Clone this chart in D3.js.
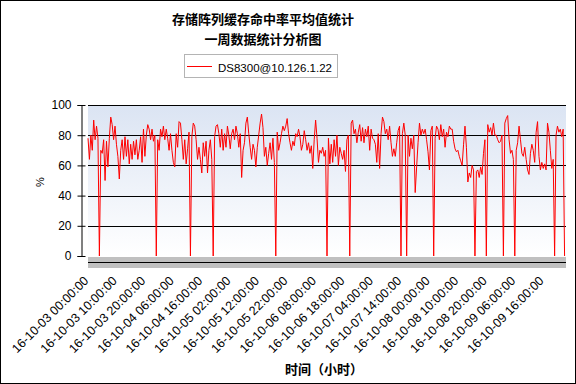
<!DOCTYPE html>
<html>
<head>
<meta charset="utf-8">
<script src="https://cdn.jsdelivr.net/npm/d3@7"></script>
<style>
    html, body { margin: 0; padding: 0; background: #fff; }
    svg { display: block; }
</style>
</head>
<body>
<svg id="chart" width="576" height="384"></svg>
<script>
    // 标题 / 图例
    var titleLines = ["存储阵列缓存命中率平均值统计", "一周数据统计分析图"];
    var seriesName = "DS8300@10.126.1.22";
    var xTitle = "时间（小时）";
    var yTitle = "%";

    // 采样起点, 间隔 30 分钟
    var startTime = "16-10-03 00:00:00";
    var stepMinutes = 30;

    // 缓存命中率 (%), 每半小时一个点
    var hitRate = [
        78, 64, 80, 70, 90, 77, 86, 78, 0,
        70, 68, 77, 50, 76, 59, 78, 92, 87, 77, 86, 74, 66, 51, 70, 77, 64, 79, 66, 77,
        61, 74, 64, 76, 67, 77, 64, 70, 79, 62, 84, 66, 80, 87, 84, 77, 84, 76, 80, 0,
        77, 70, 84, 79, 86, 77, 84, 78,
        70, 81, 70, 62, 59, 81, 72, 89, 88, 77, 64, 77, 61, 71, 82, 0,
        79, 88, 86, 77, 64, 72, 64, 55, 75, 66, 76, 55, 70, 77, 64, 0,
        79, 86, 87, 81, 72, 84, 70, 81, 72, 86, 80, 71, 81, 84, 77, 86, 81, 72, 81, 52, 70, 75, 88, 92,
        81, 72, 64, 74, 70, 59, 72, 80, 88, 94, 85, 66, 72, 60, 68, 75, 64, 78, 62, 0,
        82, 70, 75, 81, 86, 83, 86, 91, 81, 75, 70, 76, 73, 81, 79, 84, 79, 70, 74, 83,
        77, 70, 75, 68, 73, 58, 77, 90, 78, 62, 70, 68, 72, 66, 70, 0,
        78, 61, 74, 62, 77, 66, 80, 60, 72, 68, 64, 70, 56, 77, 80, 0,
        88, 90, 81, 84, 75, 82, 87, 76, 85, 75, 84, 79, 86, 70, 84, 78, 77, 74, 62, 81,
        58, 81, 92, 89, 81, 84, 77, 86, 75, 66, 71, 66, 75, 83, 86, 0,
        81, 88, 80, 0,
        80, 66, 78, 71, 80, 42, 59, 75, 88, 80, 84, 81, 84, 77, 69, 57, 83, 86, 0,
        78, 86, 84, 77, 87, 79, 84, 72, 82, 79, 86, 84, 84, 76, 71, 69, 70, 66, 63, 60,
        74, 86, 72, 49, 55, 52, 60, 57, 0,
        56, 57, 52, 59, 54, 68, 77, 0,
        87, 82, 85, 80, 88, 80, 80, 77, 75, 76, 80, 0,
        88, 91, 93, 77, 68, 70, 64, 0,
        70, 75, 86, 77, 68, 66, 72, 64, 57, 54, 68, 74, 70, 62, 82, 89, 66, 57, 62, 58,
        61, 57, 88, 82, 70, 58, 64, 0,
        80, 86, 82, 84, 79, 84, 0
    ];

    var yTicks = [0, 20, 40, 60, 80, 100];
    var xTickLabels = [
        "16-10-03 00:00:00", "16-10-03 10:00:00", "16-10-03 20:00:00",
        "16-10-04 06:00:00", "16-10-04 16:00:00", "16-10-05 02:00:00",
        "16-10-05 12:00:00", "16-10-05 22:00:00", "16-10-06 08:00:00",
        "16-10-06 18:00:00", "16-10-07 04:00:00", "16-10-07 14:00:00",
        "16-10-08 00:00:00", "16-10-08 10:00:00", "16-10-08 20:00:00",
        "16-10-09 06:00:00", "16-10-09 16:00:00"
    ];
    var spanHours = 168;

    var parseTime = d3.timeParse("%y-%m-%d %H:%M:%S");
    var t0 = parseTime(startTime);
    var points = hitRate.map(function (v, i) {
        return { t: d3.timeMinute.offset(t0, i * stepMinutes), v: v };
    });

    var plot = { left: 88, right: 566, top: 105, bottom: 256 };
    var cx = 263;
    var latin = "'Liberation Sans', Arial, sans-serif";
    var cjk = "'Noto Sans CJK SC', sans-serif";

    var svg = d3.select("#chart");

    var x = d3.scaleTime()
        .domain([t0, d3.timeHour.offset(t0, spanHours)])
        .range([plot.left, plot.right]);
    var y = d3.scaleLinear().domain([0, 100]).range([plot.bottom, plot.top]);

    // 外框
    svg.append("rect").attr("x", 0.5).attr("y", 0.5).attr("width", 575).attr("height", 383)
        .attr("fill", "#fff").attr("stroke", "#000");

    // 标题
    svg.selectAll(".title").data(titleLines).enter().append("text")
        .attr("class", "title")
        .attr("x", cx).attr("y", function (d, i) { return 24 + i * 20; })
        .attr("text-anchor", "middle")
        .style("font-family", cjk).style("font-size", "13px").style("font-weight", "bold")
        .text(function (d) { return d; });

    // 图例
    var lg = svg.append("g");
    lg.append("rect").attr("x", 184.5).attr("y", 54.5).attr("width", 153).attr("height", 23)
        .attr("fill", "#fff").attr("stroke", "#b4b4b4");
    lg.append("line").attr("x1", 187).attr("x2", 212).attr("y1", 66.5).attr("y2", 66.5)
        .attr("stroke", "#f00");
    lg.append("text").attr("x", 218).attr("y", 71.5)
        .style("font-family", latin).style("font-size", "11.5px")
        .text(seriesName);

    // 背景渐变
    var grad = svg.append("defs").append("linearGradient").attr("id", "bg")
        .attr("x1", 0).attr("y1", 0).attr("x2", 0).attr("y2", 1);
    grad.append("stop").attr("offset", "0%").attr("stop-color", "#dbe4f3");
    grad.append("stop").attr("offset", "100%").attr("stop-color", "#ffffff");
    svg.append("rect").attr("x", plot.left).attr("y", plot.top)
        .attr("width", plot.right - plot.left).attr("height", plot.bottom - plot.top)
        .attr("fill", "url(#bg)");

    // 网格线
    svg.selectAll(".grid").data(yTicks.filter(function (d) { return d > 0; })).enter().append("line")
        .attr("class", "grid")
        .attr("x1", plot.left).attr("x2", plot.right)
        .attr("y1", function (d) { return Math.round(y(d)) + 0.5; })
        .attr("y2", function (d) { return Math.round(y(d)) + 0.5; })
        .attr("stroke", "#000");

    // 底座
    svg.append("rect").attr("x", plot.left).attr("y", plot.bottom + 1)
        .attr("width", plot.right - plot.left).attr("height", 11).attr("fill", "#c0c0c0");
    svg.append("line").attr("x1", plot.left).attr("x2", plot.right)
        .attr("y1", plot.bottom + 6.5).attr("y2", plot.bottom + 6.5).attr("stroke", "#000");

    // Y 轴
    var yAxis = svg.append("g").attr("transform", "translate(81.5,0)")
        .call(d3.axisLeft(y).tickValues(yTicks).tickSize(4).tickPadding(6));
    yAxis.select(".domain").attr("stroke", "#000");
    yAxis.selectAll(".tick line").attr("x1", 4).attr("x2", -4).attr("stroke", "#000");
    yAxis.selectAll(".tick text").style("font-family", latin).style("font-size", "12px").attr("fill", "#000");

    svg.append("text").attr("transform", "translate(44,182) rotate(-90)")
        .attr("text-anchor", "middle")
        .style("font-family", latin).style("font-size", "11px")
        .text(yTitle);

    // X 轴标签
    var xAxis = svg.append("g").attr("transform", "translate(-7," + (plot.bottom + 22) + ")")
        .call(d3.axisBottom(x).tickValues(xTickLabels.map(parseTime)).tickSize(0)
            .tickFormat(function (d, i) { return xTickLabels[i]; }));
    xAxis.select(".domain").remove();
    xAxis.selectAll(".tick text")
        .attr("text-anchor", "end")
        .attr("x", 3).attr("y", 8).attr("dy", 0)
        .attr("transform", "rotate(-45)")
        .style("font-family", latin).style("font-size", "12.5px").attr("fill", "#000");

    svg.append("text").attr("x", 324).attr("y", 374).attr("text-anchor", "middle")
        .style("font-family", cjk).style("font-size", "13px").style("font-weight", "bold")
        .text(xTitle);

    // 折线
    var line = d3.line()
        .x(function (d) { return x(d.t); })
        .y(function (d) { return y(d.v); });
    svg.append("path").datum(points)
        .attr("d", line)
        .attr("fill", "none")
        .attr("stroke", "#ff0000")
        .attr("stroke-width", 1);
</script>
</body>
</html>
